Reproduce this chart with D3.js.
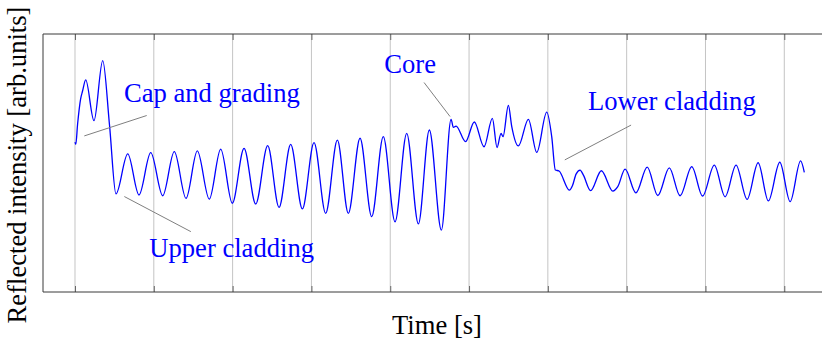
<!DOCTYPE html>
<html>
<head>
<meta charset="utf-8">
<script src="https://cdn.jsdelivr.net/npm/d3@7"></script>
<style>
  html, body { margin: 0; padding: 0; background: #fff; }
  svg { display: block; }
</style>
</head>
<body>
<svg id="chart" width="822" height="344"></svg>
<script>
// Time [s]
const times = [0.000,0.010,0.033,0.071,0.096,0.136,0.241,0.352,0.438,0.520,
  0.669,0.812,0.961,1.113,1.260,1.409,1.552,1.704,1.849,1.996,
  2.145,2.293,2.445,2.589,2.737,2.885,3.033,3.181,3.329,3.468,
  3.617,3.765,3.912,4.061,4.209,4.357,4.496,4.649,4.772,4.801,
  4.835,4.956,5.067,5.190,5.296,5.355,5.406,5.431,5.499,5.542,
  5.626,5.753,5.859,5.986,6.049,6.095,6.142,6.273,6.313,6.358,
  6.409,6.451,6.542,6.679,6.825,6.887,6.980,7.117,7.261,7.395,
  7.541,7.678,7.826,7.963,8.112,8.249,8.388,8.528,8.668,8.798,
  8.943,9.074,9.207,9.254];
// Reflected intensity [arb. units]
const intensity = [5.81,5.72,6.51,7.48,7.79,8.22,6.64,8.97,6.47,3.80,
  5.35,3.76,5.40,3.73,5.44,3.63,5.47,3.60,5.54,3.44,
  5.57,3.41,5.67,3.28,5.72,3.22,5.79,3.05,5.89,3.05,
  5.96,2.92,6.02,2.72,6.15,2.64,6.28,2.40,6.69,6.38,
  6.43,5.83,6.59,5.63,6.73,5.60,6.15,6.02,7.23,6.41,
  5.66,6.69,5.41,6.97,6.02,4.73,4.69,3.95,4.13,4.57,
  4.72,4.53,3.93,4.70,3.91,4.08,4.76,3.84,4.84,3.74,
  4.81,3.73,4.86,3.72,4.92,3.69,4.92,3.59,5.01,3.53,
  5.03,3.50,5.08,4.64];
const xTicks = [0,1,2,3,4,5,6,7,8,9];

// Annotations: label, label anchor (t, v), pointer from (t, v) to (t, v)
const annLabels = ["Cap and grading", "Upper cladding", "Core", "Lower cladding"];
const annText = [[0.622, 7.38], [0.943, 1.34], [3.925, 8.48], [6.510, 7.05]];
const annFrom = [[0.118, 6.05], [0.626, 3.70], [4.429, 8.12], [6.215, 5.12]];
const annTo   = [[0.910, 6.84], [1.470, 2.34], [4.759, 6.80], [7.056, 6.47]];

const svg = d3.select("#chart");
const L = 43, R = 830, T = 34, B = 292;
const x = d3.scaleLinear().domain([-0.406, 9.58]).range([L, R]);
const y = d3.scaleLinear().domain([0, 10]).range([B, T]);

svg.append("defs").append("clipPath").attr("id", "clip")
  .append("rect").attr("x", L).attr("y", T).attr("width", R - L).attr("height", B - T);

const serif = "'Liberation Serif', 'Times New Roman', serif";
const fs = 26.6;

// grid
svg.append("g").selectAll("line").data(xTicks).join("line")
  .attr("x1", d => x(d)).attr("x2", d => x(d))
  .attr("y1", T).attr("y2", B)
  .attr("stroke", "#c4c4c4").attr("stroke-width", 1);

// tick marks (bottom inward, top inward) via axes
const axB = svg.append("g").attr("transform", `translate(0,${B})`)
  .call(d3.axisBottom(x).tickValues(xTicks).tickSize(-6).tickFormat(""));
const axT = svg.append("g").attr("transform", `translate(0,${T})`)
  .call(d3.axisTop(x).tickValues(xTicks).tickSize(-6).tickFormat(""));
[axB, axT].forEach(a => {
  a.select(".domain").remove();
  a.selectAll(".tick line").attr("stroke", "#666");
});

// frame
svg.append("path")
  .attr("d", `M${R + 20},${T}H${L}V${B}H${R + 20}`)
  .attr("fill", "none").attr("stroke", "#3a3a3a").attr("stroke-width", 1);

// signal
const pts = times.map((t, i) => [t, intensity[i]]);
svg.append("path")
  .attr("clip-path", "url(#clip)")
  .attr("d", d3.line().x(d => x(d[0])).y(d => y(d[1])).curve(d3.curveMonotoneX)(pts))
  .attr("fill", "none").attr("stroke", "#0000ff").attr("stroke-width", 1.3)
  .attr("stroke-linejoin", "round");

// annotation pointers
svg.append("g").selectAll("line").data(annFrom).join("line")
  .attr("x1", d => x(d[0])).attr("y1", d => y(d[1]))
  .attr("x2", (d, i) => x(annTo[i][0])).attr("y2", (d, i) => y(annTo[i][1]))
  .attr("stroke", "#7f7f7f").attr("stroke-width", 1);

// annotation labels
svg.append("g").selectAll("text").data(annLabels).join("text")
  .attr("x", (d, i) => x(annText[i][0]))
  .attr("y", (d, i) => y(annText[i][1]))
  .attr("font-family", serif).attr("font-size", fs)
  .attr("fill", "#0000ff")
  .text(d => d);

// axis labels
svg.append("text")
  .attr("x", 437).attr("y", 334)
  .attr("text-anchor", "middle")
  .attr("font-family", serif).attr("font-size", fs).attr("fill", "#000")
  .text("Time [s]");
svg.append("text")
  .attr("transform", "translate(26,165) rotate(-90)")
  .attr("text-anchor", "middle")
  .attr("font-family", serif).attr("font-size", fs).attr("fill", "#000")
  .text("Reflected intensity [arb.units]");
</script>
</body>
</html>
